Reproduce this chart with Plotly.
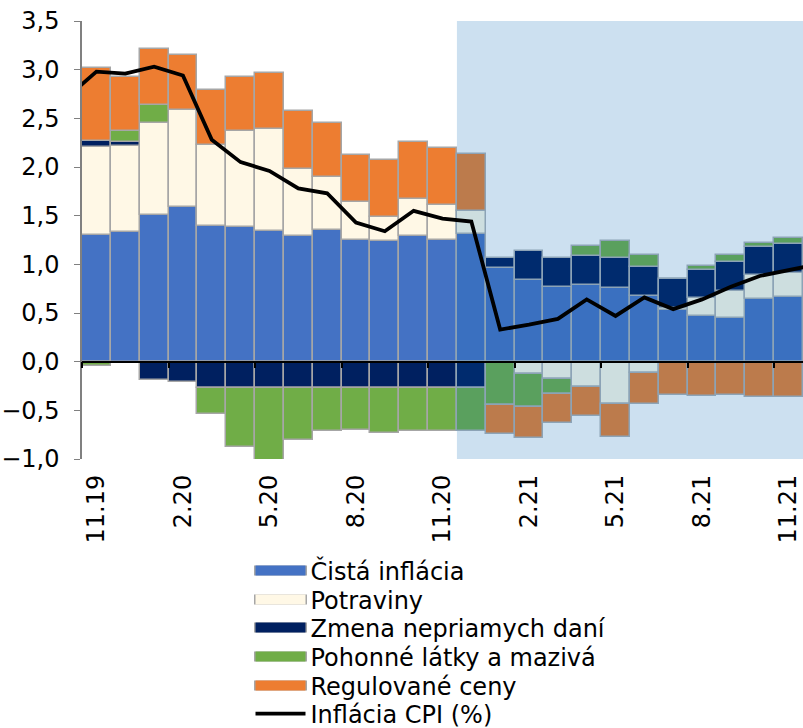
import plotly.graph_objects as go

months = ["11.19", "12.19", "1.20", "2.20", "3.20", "4.20", "5.20", "6.20", "7.20", "8.20",
          "9.20", "10.20", "11.20", "12.20", "1.21", "2.21", "3.21", "4.21", "5.21", "6.21",
          "7.21", "8.21", "9.21", "10.21", "11.21"]
tick_labels = ["11.19", "2.20", "5.20", "8.20", "11.20", "2.21", "5.21", "8.21", "11.21"]

cista = [1.30, 1.33, 1.51, 1.59, 1.39, 1.38, 1.34, 1.29, 1.35, 1.25, 1.24, 1.29, 1.25,
         1.31, 0.96, 0.84, 0.77, 0.79, 0.76, 0.67, 0.53, 0.47, 0.45, 0.64, 0.66]
potraviny = [0.91, 0.89, 0.94, 1.00, 0.84, 0.99, 1.05, 0.69, 0.55, 0.39, 0.25, 0.38, 0.36,
             0.24, 0.00, -0.13, -0.18, -0.26, -0.44, -0.12, 0.02, 0.18, 0.28, 0.25, 0.25]
zmena = [0.06, 0.04, -0.19, -0.21, -0.27, -0.27, -0.27, -0.27, -0.27, -0.27, -0.27, -0.27, -0.27,
         -0.27, 0.11, 0.30, 0.29, 0.30, 0.30, 0.30, 0.30, 0.29, 0.29, 0.29, 0.30]
pohonne = [-0.04, 0.11, 0.19, 0.00, -0.27, -0.61, -0.75, -0.53, -0.44, -0.43, -0.46, -0.44, -0.44,
           -0.44, -0.45, -0.34, -0.15, 0.10, 0.18, 0.13, 0.00, 0.04, 0.08, 0.04, 0.06]
regulovane = [0.75, 0.55, 0.57, 0.56, 0.56, 0.55, 0.58, 0.60, 0.55, 0.48, 0.58, 0.59, 0.59,
              0.58, -0.29, -0.31, -0.30, -0.30, -0.33, -0.32, -0.34, -0.35, -0.34, -0.36, -0.36]
# CPI line incl. one point before and after the shown window (clipped by the axis)
cpi_x = list(range(-1, 26))
cpi = [2.72, 2.98, 2.96, 3.03, 2.94, 2.28, 2.05, 1.96, 1.78, 1.73, 1.43, 1.34, 1.55, 1.47,
       1.44, 0.33, 0.38, 0.44, 0.64, 0.47, 0.66, 0.54, 0.64, 0.77, 0.88, 0.94, 1.00]

first_forecast = 13  # 12.20

series = [
    ("Čistá inflácia", cista, "#4472C4", "#3A70C0"),
    ("Potraviny", potraviny, "#FFF8E6", "#CDDEDF"),
    ("Zmena nepriamych daní", zmena, "#002060", "#002B6E"),
    ("Pohonné látky a mazivá", pohonne, "#70AD47", "#5AA05E"),
    ("Regulované ceny", regulovane, "#ED7D31", "#BC7B4C"),
]

FS = 24
PLOT_TOP, PLOT_H = 21, 438
legend_rows = [571, 600, 628, 657, 686, 714]
LEG_X = 0.2337
PX = 1 / 721


def ypaper(px):
    return 1 - (px - PLOT_TOP) / PLOT_H


x = list(range(len(months)))
fig = go.Figure()
legend_layout = {}
nser = len(series)
for k, (name, vals, col, fcol) in enumerate(series):
    colors = [col if i < first_forecast else fcol for i in x]
    lcolors = ["#A6A6A6" if i < first_forecast else "#8CA3B6" for i in x]
    fig.add_trace(go.Bar(x=x, y=vals, name=name, showlegend=False,
                         marker=dict(color=colors, line=dict(color=lcolors, width=1.5))))
for k, (name, vals, col, fcol) in enumerate(series):
    # grey frame of the legend key (drawn first)
    lg_b = "legend" if k == 0 else f"legend{k + 1}"
    fig.add_trace(go.Scatter(x=[None], y=[None], mode="lines", name=name, legend=lg_b,
                             line=dict(color="#A6A6A6", width=13), hoverinfo="skip"))
    legend_layout[lg_b] = dict(x=LEG_X - 1.5 * PX, y=ypaper(legend_rows[k]), xanchor="left",
                               yanchor="middle", itemwidth=53,
                               font=dict(size=FS, color="rgba(0,0,0,0)"),
                               bgcolor="rgba(0,0,0,0)")
for k, (name, vals, col, fcol) in enumerate(series):
    lg = f"legend{k + 1 + nser}"
    fig.add_trace(go.Scatter(x=[None], y=[None], mode="lines", name=name, legend=lg,
                             line=dict(color=col, width=10), hoverinfo="skip"))
    legend_layout[lg] = dict(x=LEG_X, y=ypaper(legend_rows[k]), xanchor="left",
                             yanchor="middle", itemwidth=50, font=dict(size=FS),
                             bgcolor="rgba(0,0,0,0)")

lg_cpi = f"legend{2 * nser + 1}"
fig.add_trace(go.Scatter(x=cpi_x, y=cpi, name="Inflácia CPI (%)", mode="lines",
                         legend=lg_cpi, line=dict(color="black", width=3.8)))
legend_layout[lg_cpi] = dict(x=LEG_X, y=ypaper(legend_rows[5]), xanchor="left",
                             yanchor="middle", font=dict(size=FS), itemwidth=50,
                             bgcolor="rgba(0,0,0,0)")
# invisible helper on the zero-line axis
fig.add_trace(go.Scatter(x=[0], y=[0], xaxis="x2", mode="markers", marker=dict(opacity=0),
                         showlegend=False, hoverinfo="skip"))

fig.add_shape(type="rect", xref="x", yref="paper", x0=first_forecast - 0.5, x1=24.6,
              y0=0, y1=1, fillcolor="#CCE0F0", line=dict(width=0), layer="below")

font = "DejaVu Sans, Verdana, sans-serif"
fig.update_layout(
    width=803, height=728,
    margin=dict(l=82, r=0, t=PLOT_TOP, b=728 - PLOT_TOP - PLOT_H, autoexpand=False),
    barmode="relative", bargap=0,
    plot_bgcolor="white", paper_bgcolor="white",
    separators=", ",
    font=dict(family=font, size=FS, color="black"),
    showlegend=True,
    xaxis=dict(range=[-0.5, 24.5], tickvals=[0, 3, 6, 9, 12, 15, 18, 21, 24],
               ticktext=tick_labels, tickangle=-90, ticks="", showline=False,
               showgrid=False, zeroline=False, tickfont=dict(size=FS), automargin=False,
               ticklabelstandoff=10),
    xaxis2=dict(range=[-0.5, 24.5], overlaying="x", anchor="free", position=1/4.5,
                tickvals=[i - 0.5 for i in range(0, 25, 3)], ticks="outside", ticklen=6,
                tickwidth=1.5, tickcolor="black", showticklabels=False, showline=True,
                linecolor="black", linewidth=1.5, showgrid=False, zeroline=False,
                automargin=False),
    yaxis=dict(range=[-1.0, 3.5], dtick=0.5, tick0=0, tickformat=".1f", ticks="outside",
               ticklen=6, tickcolor="#808080", showline=True, linecolor="#808080",
               linewidth=1.5, showgrid=False, zeroline=False, tickfont=dict(size=FS),
               ticklabelstandoff=10, automargin=False),
    **legend_layout,
)

fig.write_html("out.html", config={"displayModeBar": False},
               post_script="document.body.style.margin='0';document.body.style.overflow='hidden';")
